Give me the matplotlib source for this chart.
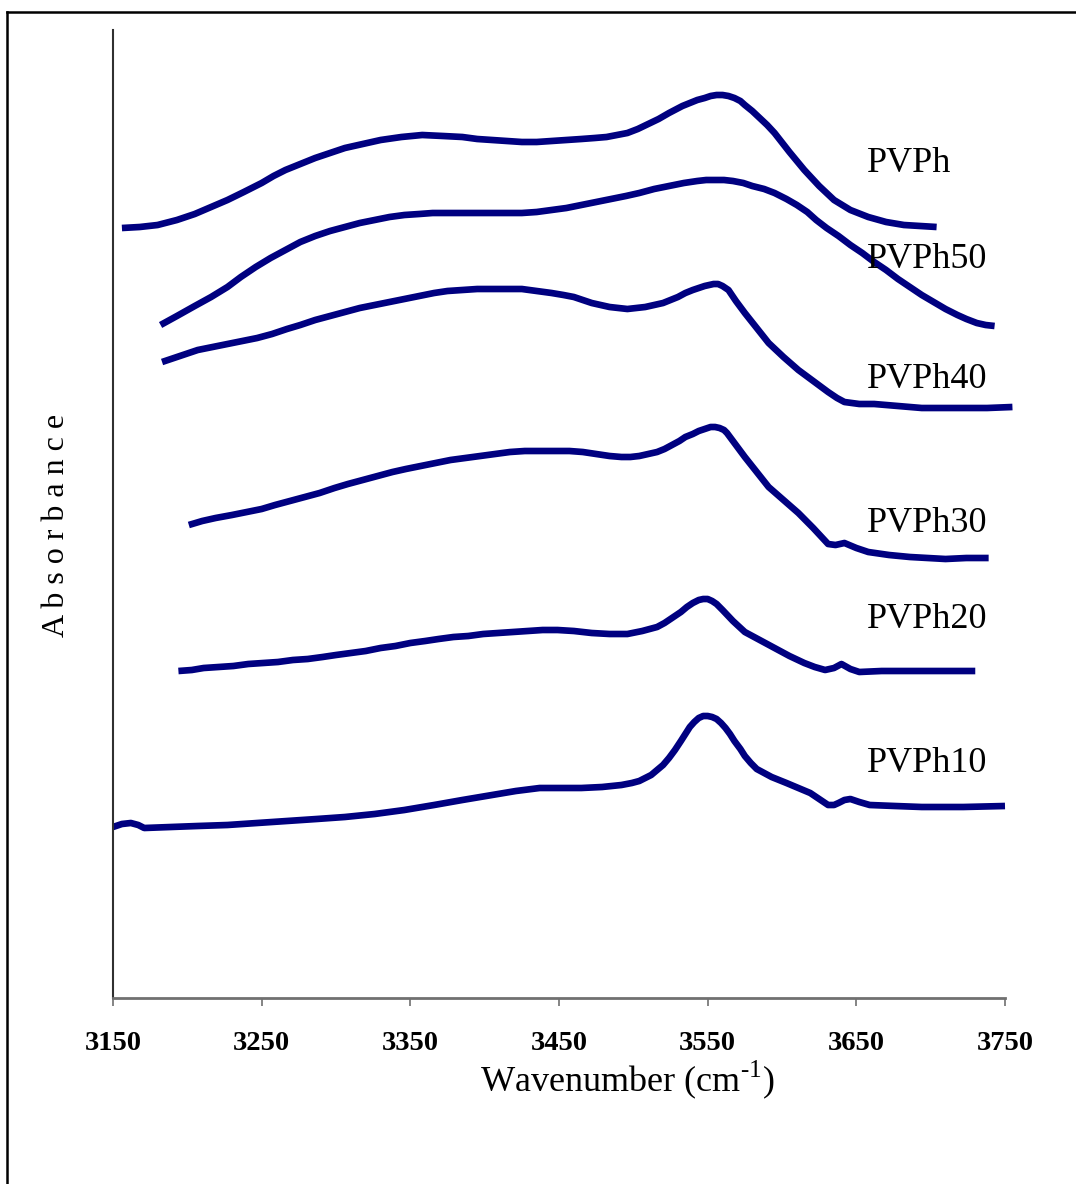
import numpy as np
import matplotlib
matplotlib.use('Agg')
import matplotlib.pyplot as plt
from matplotlib.lines import Line2D

plt.rcParams['font.family'] = ['Liberation Serif', 'DejaVu Serif']
plt.rcParams['mathtext.fontset'] = 'custom'
plt.rcParams['mathtext.rm'] = 'Liberation Serif'

# data (wavenumber in cm-1, absorbance in arbitrary offset units)
wn_pvph = [3156, 3168, 3180, 3193, 3205, 3216, 3227, 3238, 3250, 3258, 3266, 3276,
           3286, 3296, 3306, 3318, 3330, 3344, 3358, 3372, 3385, 3395, 3405, 3415,
           3425, 3435, 3445, 3455, 3465, 3474, 3482, 3489, 3496, 3503, 3510, 3517,
           3524, 3533, 3543, 3548, 3552, 3556, 3560, 3564, 3568, 3572, 3575, 3580,
           3585, 3590, 3595, 3605, 3615, 3625, 3635, 3646, 3658, 3670, 3682, 3693, 3704]
ab_pvph = [7.70, 7.71, 7.73, 7.78, 7.84, 7.91, 7.98, 8.06, 8.15, 8.22, 8.28, 8.34,
           8.40, 8.45, 8.50, 8.54, 8.58, 8.61, 8.63, 8.62, 8.61, 8.59, 8.58, 8.57,
           8.56, 8.56, 8.57, 8.58, 8.59, 8.60, 8.61, 8.63, 8.65, 8.69, 8.74, 8.79,
           8.85, 8.92, 8.98, 9.00, 9.02, 9.03, 9.03, 9.02, 9.00, 8.97, 8.93, 8.87,
           8.80, 8.73, 8.65, 8.46, 8.28, 8.12, 7.98, 7.88, 7.81, 7.76, 7.73, 7.72, 7.71]

wn_pvph50 = [3182, 3193, 3205, 3216, 3227, 3236, 3246, 3256, 3266, 3276, 3286, 3296,
             3306, 3316, 3326, 3336, 3346, 3356, 3365, 3385, 3405, 3425, 3435, 3445,
             3455, 3465, 3475, 3485, 3495, 3504, 3514, 3524, 3534, 3543, 3549, 3555,
             3561, 3567, 3574, 3580, 3588, 3595, 3603, 3610, 3617, 3623, 3630, 3638,
             3646, 3654, 3662, 3670, 3678, 3686, 3694, 3702, 3710, 3718, 3724, 3731,
             3737, 3743]
ab_pvph50 = [6.73, 6.82, 6.92, 7.01, 7.11, 7.21, 7.31, 7.40, 7.48, 7.56, 7.62, 7.67,
             7.71, 7.75, 7.78, 7.81, 7.83, 7.84, 7.85, 7.85, 7.85, 7.85, 7.86, 7.88,
             7.90, 7.93, 7.96, 7.99, 8.02, 8.05, 8.09, 8.12, 8.15, 8.17, 8.18, 8.18,
             8.18, 8.17, 8.15, 8.12, 8.09, 8.05, 7.99, 7.93, 7.86, 7.78, 7.70, 7.62,
             7.53, 7.45, 7.36, 7.28, 7.19, 7.11, 7.03, 6.96, 6.89, 6.83, 6.79, 6.75,
             6.73, 6.72]

wn_pvph40 = [3183, 3195, 3207, 3217, 3227, 3237, 3247, 3257, 3267, 3276, 3286, 3296,
             3306, 3316, 3326, 3336, 3346, 3356, 3366, 3375, 3385, 3395, 3405, 3415,
             3425, 3435, 3445, 3453, 3460, 3466, 3472, 3478, 3484, 3490, 3496, 3502,
             3508, 3514, 3520, 3525, 3530, 3535, 3540, 3544, 3548, 3551, 3554, 3557,
             3560, 3562, 3564, 3569, 3575, 3583, 3591, 3601, 3611, 3621, 3631, 3637,
             3642, 3652, 3662, 3678, 3694, 3708, 3722, 3738, 3755]
ab_pvph40 = [6.36, 6.42, 6.48, 6.51, 6.54, 6.57, 6.60, 6.64, 6.69, 6.73, 6.78, 6.82,
             6.86, 6.90, 6.93, 6.96, 6.99, 7.02, 7.05, 7.07, 7.08, 7.09, 7.09, 7.09,
             7.09, 7.07, 7.05, 7.03, 7.01, 6.98, 6.95, 6.93, 6.91, 6.90, 6.89, 6.90,
             6.91, 6.93, 6.95, 6.98, 7.01, 7.05, 7.08, 7.10, 7.12, 7.13, 7.14, 7.14,
             7.12, 7.10, 7.08, 6.97, 6.85, 6.70, 6.55, 6.41, 6.28, 6.17, 6.06, 6.00,
             5.96, 5.94, 5.94, 5.92, 5.90, 5.90, 5.90, 5.90, 5.91]

wn_pvph30 = [3201, 3210, 3219, 3230, 3240, 3250, 3259, 3269, 3279, 3289, 3299, 3308,
             3318, 3328, 3338, 3347, 3357, 3367, 3377, 3387, 3397, 3407, 3417, 3427,
             3437, 3447, 3457, 3466, 3475, 3484, 3492, 3498, 3504, 3510, 3516, 3521,
             3526, 3531, 3535, 3540, 3544, 3548, 3552, 3555, 3558, 3561, 3563, 3569,
             3575, 3583, 3591, 3601, 3611, 3621, 3631, 3636, 3642, 3650, 3658, 3672,
             3686, 3698, 3710, 3724, 3739]
ab_pvph30 = [4.73, 4.77, 4.80, 4.83, 4.86, 4.89, 4.93, 4.97, 5.01, 5.05, 5.10, 5.14,
             5.18, 5.22, 5.26, 5.29, 5.32, 5.35, 5.38, 5.40, 5.42, 5.44, 5.46, 5.47,
             5.47, 5.47, 5.47, 5.46, 5.44, 5.42, 5.41, 5.41, 5.42, 5.44, 5.46, 5.49,
             5.53, 5.57, 5.61, 5.64, 5.67, 5.69, 5.71, 5.71, 5.70, 5.68, 5.65, 5.53,
             5.41, 5.26, 5.11, 4.98, 4.85, 4.70, 4.54, 4.53, 4.55, 4.50, 4.46, 4.43,
             4.41, 4.40, 4.39, 4.40, 4.40]

wn_pvph20 = [3194, 3203, 3211, 3221, 3231, 3241, 3251, 3261, 3271, 3281, 3291, 3300,
             3310, 3320, 3330, 3340, 3350, 3360, 3369, 3379, 3389, 3399, 3409, 3419,
             3429, 3439, 3449, 3460, 3472, 3484, 3496, 3506, 3516, 3521, 3526, 3532,
             3536, 3540, 3544, 3547, 3550, 3553, 3556, 3560, 3567, 3575, 3585, 3595,
             3605, 3615, 3622, 3629, 3635, 3640, 3646, 3652, 3667, 3682, 3706, 3730]
ab_pvph20 = [3.27, 3.28, 3.30, 3.31, 3.32, 3.34, 3.35, 3.36, 3.38, 3.39, 3.41, 3.43,
             3.45, 3.47, 3.50, 3.52, 3.55, 3.57, 3.59, 3.61, 3.62, 3.64, 3.65, 3.66,
             3.67, 3.68, 3.68, 3.67, 3.65, 3.64, 3.64, 3.67, 3.71, 3.75, 3.80, 3.86,
             3.91, 3.95, 3.98, 3.99, 3.99, 3.97, 3.94, 3.88, 3.77, 3.66, 3.58, 3.50,
             3.42, 3.35, 3.31, 3.28, 3.30, 3.34, 3.29, 3.26, 3.27, 3.27, 3.27, 3.27]

wn_pvph10 = [3150, 3156, 3162, 3167, 3171, 3189, 3207, 3227, 3247, 3267, 3287, 3306,
             3326, 3346, 3366, 3385, 3405, 3421, 3437, 3451, 3465, 3479, 3492, 3499,
             3504, 3508, 3512, 3516, 3520, 3524, 3528, 3532, 3535, 3538, 3541, 3544,
             3547, 3550, 3553, 3556, 3559, 3562, 3565, 3568, 3572, 3575, 3579, 3583,
             3593, 3603, 3611, 3619, 3625, 3631, 3635, 3638, 3642, 3646, 3652, 3659,
             3676, 3694, 3722, 3750]
ab_pvph10 = [1.71, 1.74, 1.75, 1.73, 1.70, 1.71, 1.72, 1.73, 1.75, 1.77, 1.79, 1.81,
             1.84, 1.88, 1.93, 1.98, 2.03, 2.07, 2.10, 2.10, 2.10, 2.11, 2.13, 2.15,
             2.17, 2.20, 2.23, 2.28, 2.33, 2.40, 2.48, 2.57, 2.64, 2.71, 2.76, 2.80,
             2.82, 2.82, 2.81, 2.79, 2.75, 2.70, 2.64, 2.57, 2.49, 2.42, 2.35, 2.29,
             2.21, 2.15, 2.10, 2.05, 1.99, 1.93, 1.93, 1.95, 1.98, 1.99, 1.96, 1.93,
             1.92, 1.91, 1.91, 1.92]

series = [(wn_pvph, ab_pvph), (wn_pvph50, ab_pvph50), (wn_pvph40, ab_pvph40),
          (wn_pvph30, ab_pvph30), (wn_pvph20, ab_pvph20), (wn_pvph10, ab_pvph10)]
labels = ['PVPh', 'PVPh50', 'PVPh40', 'PVPh30', 'PVPh20', 'PVPh10']
label_y = [8.35, 7.38, 6.18, 4.75, 3.78, 2.35]
xticks = [3150, 3250, 3350, 3450, 3550, 3650, 3750]

# figure
W, H = 1076, 1184
fig = plt.figure(figsize=(W / 100, H / 100), dpi=100)
ax = fig.add_axes([113 / W, 1 - 998 / H, 892 / W, 968 / H])

for x, y in series:
    ax.plot(x, y, color='#000080', lw=4.8, solid_joinstyle='round',
            solid_capstyle='butt', clip_on=False)

for lab, ly in zip(labels, label_y):
    ax.text(3657, ly, lab, fontsize=26, va='center', ha='left')

ax.set_xlim(3150, 3750)
ax.set_ylim(0, 9.68)
ax.set_xticks(xticks)
ax.set_xticklabels([str(t) for t in xticks], fontweight='bold', fontsize=20.5)
ax.set_yticks([])
ax.tick_params(axis='x', direction='out', length=6, width=1.2, color='#707070', pad=18)
ax.spines['top'].set_visible(False)
ax.spines['right'].set_visible(False)
ax.spines['bottom'].set_color('#707070')
ax.spines['bottom'].set_linewidth(2.0)
ax.spines['left'].set_color('#303030')
ax.spines['left'].set_linewidth(1.5)

fig.text(627 / W, 1 - 1080 / H, r'Wavenumber (cm$^{\text{-1}}$)',
         fontsize=26, ha='center', va='center')
fig.text(57 / W, 1 - 525 / H, 'A b s o r b a n c e', fontsize=23,
         rotation=90, ha='center', va='center')

# outer frame (left and top only)
fig.add_artist(Line2D([7 / W, 7 / W], [0, 1 - 12 / H], transform=fig.transFigure,
                      color='black', lw=1.8))
fig.add_artist(Line2D([7 / W, 1], [1 - 12 / H, 1 - 12 / H], transform=fig.transFigure,
                      color='black', lw=1.8))

plt.savefig('out.png', dpi=100)
